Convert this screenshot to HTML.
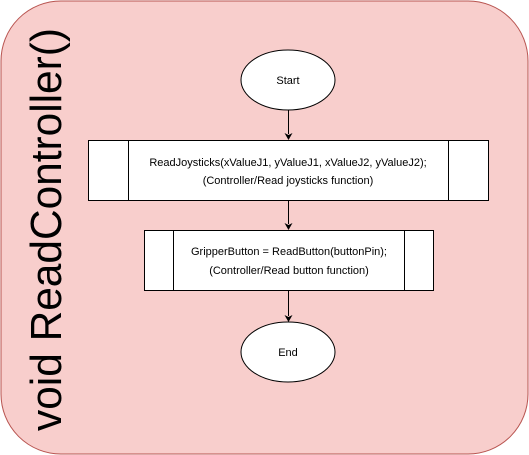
<!DOCTYPE html>
<html><head><style>html,body{margin:0;padding:0;background:#fff;}svg{display:block}</style></head>
<body>
<svg width="529" height="455" xmlns="http://www.w3.org/2000/svg" font-family="Liberation Sans, Arial, sans-serif">
<rect x="1" y="1" width="527" height="453" rx="60" ry="60" fill="#f8cecc" stroke="#b85450" stroke-width="1"/>
<text transform="translate(61,431) rotate(-90)" font-size="44" textLength="403" lengthAdjust="spacingAndGlyphs" fill="#000">void ReadController()</text>
<g stroke="#000" stroke-width="1" fill="#fff">
<ellipse cx="288" cy="80" rx="47" ry="30"/>
<rect x="88.5" y="140.5" width="400" height="60"/>
<line x1="128.5" y1="140.5" x2="128.5" y2="200.5"/>
<line x1="448.5" y1="140.5" x2="448.5" y2="200.5"/>
<rect x="144.5" y="230.5" width="289" height="60"/>
<line x1="173.5" y1="230.5" x2="173.5" y2="290.5"/>
<line x1="404.5" y1="230.5" x2="404.5" y2="290.5"/>
<ellipse cx="288" cy="352" rx="47" ry="30"/>
<line x1="288.5" y1="110" x2="288.5" y2="134"/>
<line x1="288.5" y1="201" x2="288.5" y2="224"/>
<line x1="288.5" y1="291" x2="288.5" y2="316"/>
</g>
<g fill="#000">
<path d="M284.5,133 L288.5,140 L292.5,133 L288.5,135 Z"/>
<path d="M284.5,223 L288.5,230 L292.5,223 L288.5,225 Z"/>
<path d="M284.5,315 L288.5,322 L292.5,315 L288.5,317 Z"/>
</g>
<g font-size="11" text-anchor="middle" fill="#000">
<text x="288" y="84">Start</text>
<text x="288" y="166">ReadJoysticks(xValueJ1, yValueJ1, xValueJ2, yValueJ2);</text>
<text x="288" y="184">(Controller/Read joysticks function)</text>
<text x="289" y="255">GripperButton = ReadButton(buttonPin);</text>
<text x="289" y="274">(Controller/Read button function)</text>
<text x="288" y="356">End</text>
</g>
</svg>
</body></html>
